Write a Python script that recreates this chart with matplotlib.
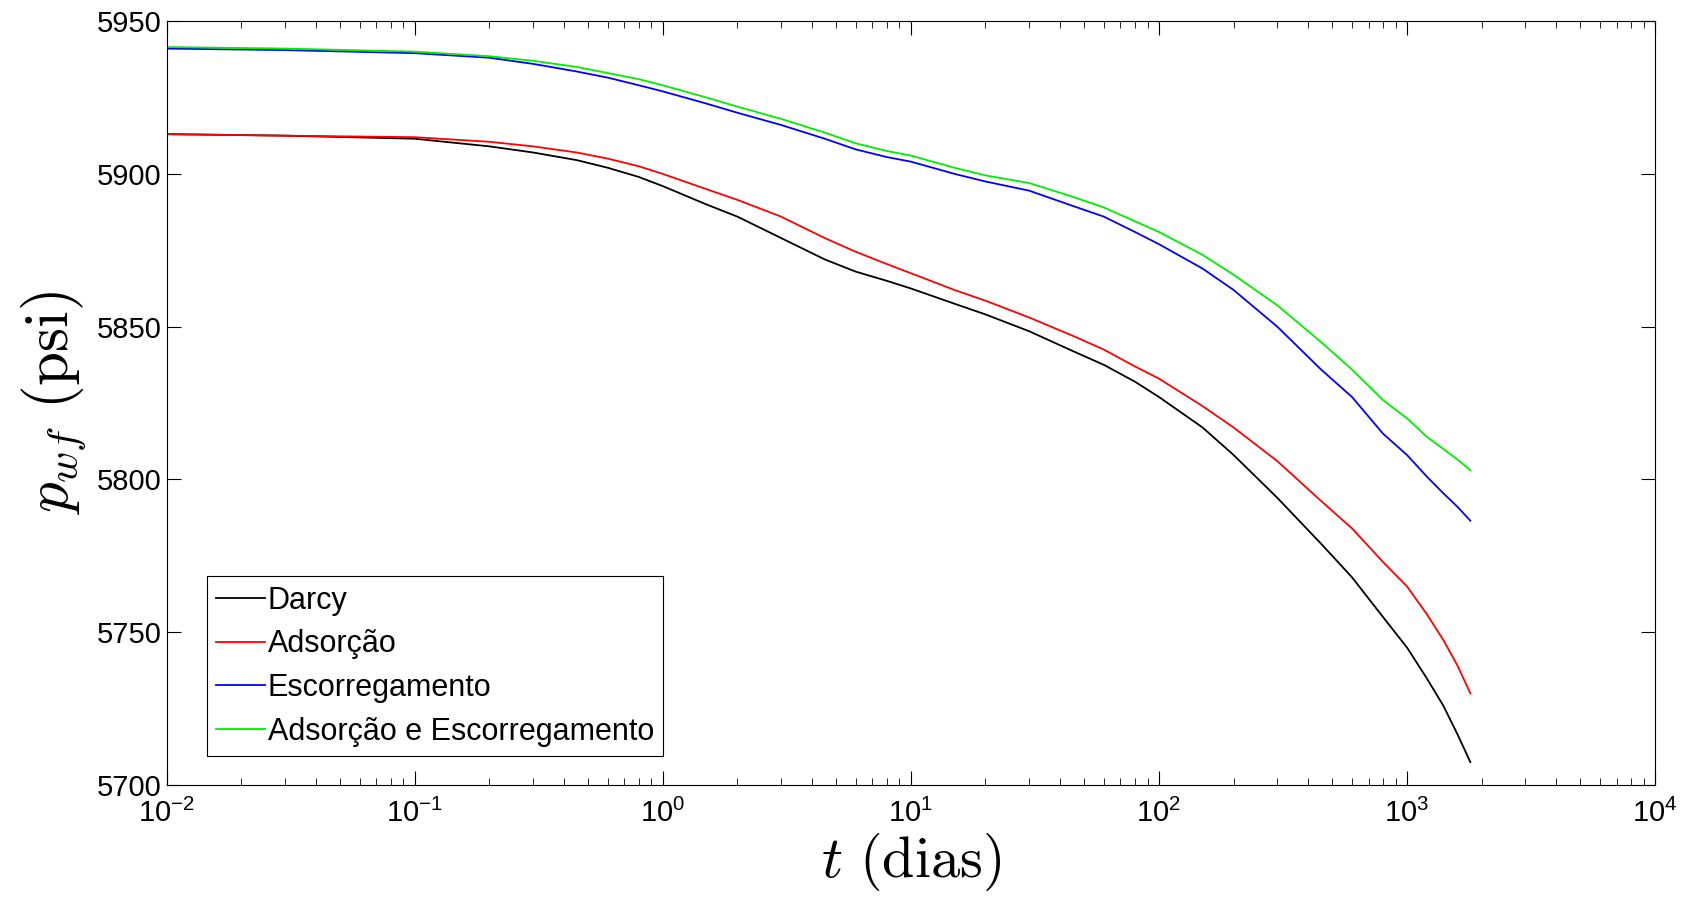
import matplotlib
matplotlib.use("Agg")
import matplotlib.pyplot as plt
from matplotlib.ticker import LogLocator

plt.rcParams['font.family'] = ['Liberation Sans', 'DejaVu Sans']
plt.rcParams['mathtext.fontset'] = 'cm'

# time (days)
t = [0.01, 0.03, 0.1, 0.2, 0.3, 0.45, 0.6, 0.8, 1, 1.5, 2, 3, 4.5, 6, 8, 10, 15, 20, 30, 45, 60, 80,
     100, 150, 200, 300, 450, 600, 800, 1000, 1200, 1400, 1600, 1800]
darcy = [5913, 5912.5, 5911.5, 5909, 5907, 5904.5, 5902, 5899, 5896, 5890, 5886, 5879, 5872, 5868, 5865, 5862.5,
         5857.5, 5854, 5848.5, 5842, 5837.5, 5832, 5827, 5817, 5808, 5794, 5779, 5768, 5755, 5745, 5735, 5726, 5716.5, 5707.5]
adsorcao = [5913, 5912.5, 5912, 5910.5, 5909, 5907, 5905, 5902.5, 5900, 5895, 5891.5, 5886, 5879, 5874.5, 5870.5, 5867.5,
            5862, 5858.5, 5853, 5847, 5842.5, 5837, 5833, 5824, 5817, 5806, 5793, 5784, 5773, 5765, 5756, 5747.5, 5739, 5730]
escorreg = [5941, 5940.5, 5939.5, 5938, 5936, 5933.5, 5931.5, 5929, 5927, 5923, 5920, 5916, 5911.5, 5908, 5905.5, 5904,
            5900, 5897.5, 5894.5, 5889.5, 5886, 5881, 5877, 5869, 5862, 5850, 5836, 5827, 5815, 5808, 5801, 5795.5, 5791, 5786.5]
ads_esc = [5941.5, 5941, 5940, 5938.5, 5937, 5935, 5933, 5931, 5929, 5925, 5922, 5918, 5913.5, 5910, 5907.5, 5906,
           5902, 5899.5, 5897, 5892.5, 5889, 5884.5, 5881, 5873.5, 5867, 5857, 5845, 5836, 5826, 5820, 5814, 5810, 5806.5, 5803]

fig = plt.figure(figsize=(16.82, 9.16), dpi=100, facecolor="white")
ax = fig.add_axes([0.099, 0.143, 0.885, 0.834])

ax.plot(t, darcy, color="black", lw=1.3, label="Darcy")
ax.plot(t, adsorcao, color="red", lw=1.3, label="Adsorção")
ax.plot(t, escorreg, color="blue", lw=1.3, label="Escorregamento")
ax.plot(t, ads_esc, color="#00ee00", lw=1.3, label="Adsorção e Escorregamento")

ax.set_xscale("log")
ax.set_xlim(1e-2, 1e4)
ax.set_ylim(5700, 5950)
ax.set_yticks([5700, 5750, 5800, 5850, 5900, 5950])
ax.xaxis.set_minor_locator(LogLocator(base=10, subs=range(2, 10), numticks=20))
ax.tick_params(which="both", direction="in", top=True, right=True, labelsize=21)
ax.tick_params(axis="x", pad=10)
ax.tick_params(which="major", length=10)
ax.tick_params(which="minor", length=5)
ax.set_xlabel(r"$t\ \mathrm{(dias)}$", fontsize=42, labelpad=2)
ax.set_ylabel(r"$p_{wf}\ \mathrm{(psi)}$", fontsize=44, labelpad=6)

leg = ax.legend(loc="lower left", bbox_to_anchor=(0.027, 0.038), fontsize=22,
                fancybox=False, framealpha=1, edgecolor="black",
                handlelength=1.6, handletextpad=0.1, borderpad=0.3, labelspacing=0.45,
                borderaxespad=0)
leg.get_frame().set_linewidth(0.8)

fig.savefig("out.png", dpi=100, facecolor="white")
